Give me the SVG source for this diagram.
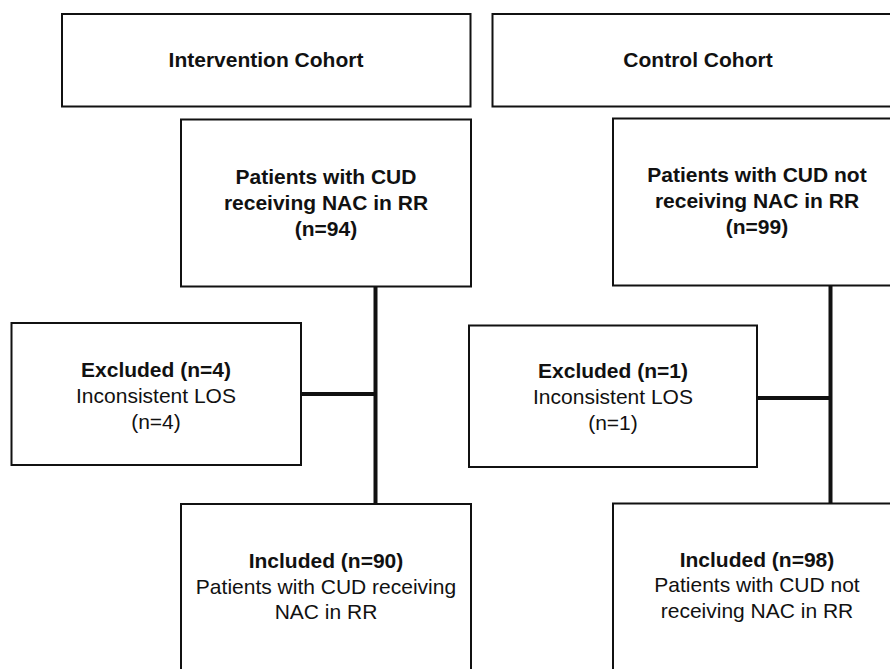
<svg xmlns="http://www.w3.org/2000/svg" width="890" height="669" viewBox="0 0 890 669">
<style>
.box{fill:#fff;stroke:#111;stroke-width:2}
.conn{stroke:#111;stroke-width:4;fill:none}
text{font-family:"Liberation Sans",Arial,sans-serif;font-size:21px;fill:#111;text-anchor:middle}
.b{font-weight:bold}
</style>
<rect width="890" height="669" fill="#fff"/>
<g id="connectors">
<line class="conn" x1="375.5" y1="287" x2="375.5" y2="504"/>
<line class="conn" x1="301" y1="394" x2="375.5" y2="394"/>
<line class="conn" x1="830.5" y1="285" x2="830.5" y2="503"/>
<line class="conn" x1="757" y1="398" x2="830.5" y2="398"/>
</g>
<g id="intervention-cohort">
<rect class="box" x="62" y="14" width="408.5" height="92.5"/>
<text class="b" x="266" y="67">Intervention Cohort</text>
</g>
<g id="control-cohort">
<rect class="box" x="492.5" y="14" width="412" height="92.5"/>
<text class="b" x="698" y="67">Control Cohort</text>
</g>
<g id="patients-intervention">
<rect class="box" x="181" y="119.5" width="290" height="167"/>
<text class="b" x="326" y="184">Patients with CUD</text>
<text class="b" x="326" y="210">receiving NAC in RR</text>
<text class="b" x="326" y="236">(n=94)</text>
</g>
<g id="patients-control">
<rect class="box" x="613" y="118.5" width="290" height="167"/>
<text class="b" x="757" y="182">Patients with CUD not</text>
<text class="b" x="757" y="208">receiving NAC in RR</text>
<text class="b" x="757" y="234">(n=99)</text>
</g>
<g id="excluded-intervention">
<rect class="box" x="11.5" y="323" width="289.5" height="142"/>
<text class="b" x="156" y="377">Excluded (n=4)</text>
<text x="156" y="403">Inconsistent LOS</text>
<text x="156" y="429">(n=4)</text>
</g>
<g id="excluded-control">
<rect class="box" x="469" y="325.5" width="288" height="141.5"/>
<text class="b" x="613" y="378">Excluded (n=1)</text>
<text x="613" y="404">Inconsistent LOS</text>
<text x="613" y="430">(n=1)</text>
</g>
<g id="included-intervention">
<rect class="box" x="181" y="504" width="290" height="180"/>
<text class="b" x="326" y="568">Included (n=90)</text>
<text x="326" y="594">Patients with CUD receiving</text>
<text x="326" y="619">NAC in RR</text>
</g>
<g id="included-control">
<rect class="box" x="613" y="503.5" width="290" height="180"/>
<text class="b" x="757" y="567">Included (n=98)</text>
<text x="757" y="592">Patients with CUD not</text>
<text x="757" y="618">receiving NAC in RR</text>
</g>
</svg>
